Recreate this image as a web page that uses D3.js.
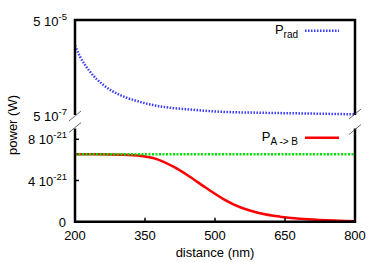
<!DOCTYPE html>
<html>
<head>
<meta charset="utf-8">
<script src="https://cdn.jsdelivr.net/npm/d3@7"></script>
<style>
  body { margin: 0; background: #fff; }
  text { font-family: "Liberation Sans", Arial, sans-serif; fill: #000; }
</style>
</head>
<body>
<svg id="chart" width="374" height="262"></svg>
<script>
// distance (nm)
const distance = [200, 211, 232, 261, 296, 332, 367, 404, 439, 511, 600, 700, 800];
// radiated power (W), log panel
const prad = [1.45e-5, 8.4e-6, 4.1e-6, 2.14e-6, 1.32e-6, 9.9e-7, 8.1e-7, 7.1e-7, 6.6e-7, 5.86e-7, 5.57e-7, 5.37e-7, 5.17e-7];

// transfer power A -> B (units of 1e-21 W)
const distAB = [200, 250, 300, 339, 375, 411, 446, 482, 518, 554, 596, 639, 682, 725, 800];
const pab = [6.54, 6.54, 6.5, 6.4, 6.08, 5.34, 4.37, 3.24, 2.2, 1.4, 0.82, 0.49, 0.29, 0.17, 0.05];
// reference level (units of 1e-21 W)
const pref = 6.54;

const xTicks = [200, 350, 500, 650, 800];
const yTicksLog = [5e-7, 5e-5];
const yTicksLin = [0, 4, 8];

const svg = d3.select("#chart");
const left = 75, right = 355;
const topY0 = 20, topY1 = 115;
const botY0 = 128.5, botY1 = 221.7;

const x = d3.scaleLinear().domain([200, 800]).range([left, right]);
const yLog = d3.scaleLog().domain([5e-7, 5e-5]).range([topY1, topY0]);
const yLin = d3.scaleLinear().domain([0, 9.05]).range([botY1, botY0]);

// curves
const lineRad = d3.line().x((d, i) => x(distance[i])).y(d => yLog(d)).curve(d3.curveMonotoneX);
svg.append("path").datum(prad)
  .attr("d", lineRad)
  .attr("fill", "none").attr("stroke", "#3a3aff").attr("stroke-width", 2.5)
  .attr("stroke-dasharray", "1.5,1.5");

const lineAB = d3.line().x((d, i) => x(distAB[i])).y(d => yLin(d)).curve(d3.curveMonotoneX);
svg.append("path").datum(pab)
  .attr("d", lineAB)
  .attr("fill", "none").attr("stroke", "#ff0000").attr("stroke-width", 2.5);

svg.append("line")
  .attr("x1", x(200)).attr("x2", x(800))
  .attr("y1", yLin(pref)).attr("y2", yLin(pref))
  .attr("stroke", "#00e000").attr("stroke-width", 2.5)
  .attr("stroke-dasharray", "2,1.5");

// frames
const frame = svg.append("g").attr("fill", "none").attr("stroke", "#000").attr("stroke-width", 2.5);
frame.append("path").attr("d", `M${left},${topY1}V${topY0}H${right}V${topY1}`);
frame.append("path").attr("d", `M${left},${botY0}V${botY1}H${right}V${botY0}`);

// break marks
const brk = svg.append("g").attr("stroke", "#444").attr("stroke-width", 0.8);
[[left, topY1 + 1], [left, botY0 - 1], [right, topY1 - 1], [right, botY0 + 1]].forEach(p => {
  brk.append("line")
    .attr("x1", p[0] - 6).attr("y1", p[1] + 5)
    .attr("x2", p[0] + 6).attr("y2", p[1] - 5);
});

// ticks
const ticks = svg.append("g").attr("stroke", "#000").attr("stroke-width", 1.5);
xTicks.slice(1, -1).forEach(t => {
  ticks.append("line").attr("x1", x(t)).attr("x2", x(t)).attr("y1", botY1).attr("y2", botY1 - 4);
});
yTicksLin.slice(1).forEach(t => {
  ticks.append("line").attr("x1", left).attr("x2", left + 4).attr("y1", yLin(t)).attr("y2", yLin(t));
});

// tick labels
svg.append("g").selectAll("text").data(xTicks).join("text")
  .attr("x", d => x(d)).attr("y", 240)
  .attr("text-anchor", "middle").attr("font-size", 13)
  .text(d => d);

function sciLabel(y, mant, exp) {
  const t = svg.append("text").attr("x", 67).attr("y", y).attr("text-anchor", "end").attr("font-size", 13);
  t.append("tspan").text(mant + " 10");
  t.append("tspan").attr("dy", -6).attr("font-size", 9.5).text(exp);
}
const fmtLog = d => { const e = Math.floor(Math.log10(d)); return [Math.round(d / Math.pow(10, e)), e]; };
yTicksLog.forEach(d => { const [m, e] = fmtLog(d); sciLabel(yLog(d) + 6, m, "-" + Math.abs(e)); });
yTicksLin.forEach(d => {
  if (d === 0) {
    svg.append("text").attr("x", 66).attr("y", yLin(0) + 5).attr("text-anchor", "end").attr("font-size", 13).text("0");
  } else {
    sciLabel(yLin(d) + 5, d, "-21");
  }
});

// axis titles
svg.append("text").attr("x", 215).attr("y", 257).attr("text-anchor", "middle").attr("font-size", 13).text("distance (nm)");
svg.append("text").attr("transform", "translate(17,125) rotate(-90)").attr("text-anchor", "middle").attr("font-size", 13).text("power (W)");

// legend
const l1 = svg.append("text").attr("x", 298).attr("y", 33.5).attr("text-anchor", "end").attr("font-size", 13);
l1.append("tspan").text("P");
l1.append("tspan").attr("dy", 4).attr("font-size", 10).text("rad");
svg.append("line").attr("x1", 305).attr("x2", 339).attr("y1", 30.7).attr("y2", 30.7)
  .attr("stroke", "#3a3aff").attr("stroke-width", 2.5).attr("stroke-dasharray", "1.5,1.5");

const l2 = svg.append("text").attr("x", 298).attr("y", 141).attr("text-anchor", "end").attr("font-size", 13);
l2.append("tspan").text("P");
l2.append("tspan").attr("dy", 4).attr("font-size", 10).text("A -> B");
svg.append("line").attr("x1", 305).attr("x2", 339).attr("y1", 137.7).attr("y2", 137.7)
  .attr("stroke", "#ff0000").attr("stroke-width", 2.5);
</script>
</body>
</html>
